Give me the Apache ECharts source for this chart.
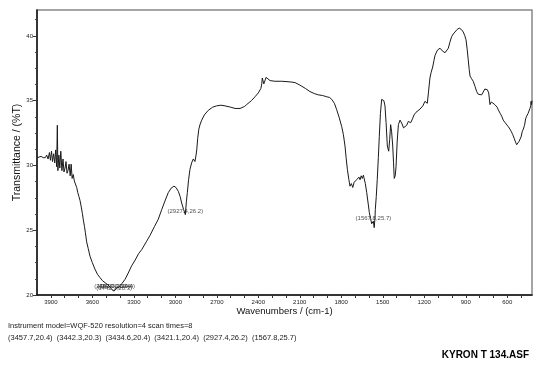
<!DOCTYPE html>
<html>
<head>
<meta charset="utf-8">
<style>
html,body{margin:0;padding:0;background:#fff;}
#chart{width:545px;height:368px;}
</style>
<script src="https://cdn.jsdelivr.net/npm/echarts@6/dist/echarts.min.js"></script>
</head>
<body>
<div id="chart"></div>
<script>
// Wavenumbers (cm-1)
var wavenumbers = [
3998,3985,3970,3955,3940,3930,3920,3910,3903,3895,3888,3880,3872,3865,3858,3853,3849,3842,3835,3828,
3820,3812,3805,3797,3790,3783,3776,3768,3760,3753,3746,3738,3730,3722,3713,3705,3697,3689,3680,3672,
3665,3657,3650,3641,3630,3617,3600,3581,3563,3545,3526,3508,3490,3470,3457.7,3448,3442.3,3434.6,3428,3421.1,
3410,3400,3385,3364,3340,3316,3290,3265,3243,3210,3183,3150,3123,3098,3075,3051,3030,3010,2995,2978,
2965,2954,2940,2927.4,2920,2913,2904,2894,2882,2870,2858,2850,2845,2838,2830,2820,2809,2790,2762,2730,
2701,2670,2641,2600,2568,2532,2500,2484,2450,2424,2400,2381,2375,2371,2365,2360,2356,2350,2344,2335,
2315,2280,2231,2171,2135,2099,2060,2026,1995,1966,1935,1905,1885,1869,1850,1833,1815,1797,1785,1773,
1765,1756,1745,1737,1727,1717,1707,1697,1689,1680,1672,1664,1656,1648,1640,1636,1626,1616,1606,1597,
1588,1580,1575,1567.8,1562,1556,1554,1547,1540,1532,1525,1517,1508,1500,1492,1484,1476,1467,1457,1450,
1443,1436,1428,1422,1417,1410,1404,1396,1387,1375,1360,1350,1339,1327,1315,1298,1285,1274,1260,1250,
1231,1210,1195,1185,1178,1170,1159,1150,1139,1130,1122,1105,1086,1070,1060,1050,1040,1026,1015,1002,
990,978,962,947,932,918,908,898,890,882,875,869,858,846,833,821,810,797,785,773,
762,754,744,734,725,715,701,690,681,673,665,650,640,629,615,604,593,580,570,561,
550,540,532,527,520,515,508,500,492,484,475,467,460,450,443,436,430,428,424,421
];
// Transmittance (%T)
var transmittance = [
30.6,30.5,30.7,30.6,30.6,30.8,30.5,31.0,30.4,31.1,30.3,30.9,30.2,31.2,29.9,33.1,29.6,30.8,29.8,31.1,
29.6,30.5,29.5,29.8,30.3,29.4,29.6,30.1,29.2,30.1,29.0,29.3,28.8,28.7,28.3,27.9,27.6,27.3,26.8,26.3,
25.8,25.3,24.8,24.1,23.6,23.0,22.5,22.0,21.6,21.35,21.1,20.95,20.8,20.6,20.4,20.5,20.3,20.4,20.5,20.4,
20.6,20.7,20.9,21.2,21.7,22.25,22.7,23.2,23.5,24.1,24.6,25.3,25.85,26.6,27.25,27.9,28.25,28.4,28.3,28.0,
27.6,27.1,26.6,26.2,27.2,27.9,28.9,29.7,30.2,30.5,30.3,30.8,31.2,32.1,32.8,33.2,33.5,33.9,34.25,34.5,
34.6,34.65,34.6,34.5,34.4,34.4,34.55,34.7,35.0,35.3,35.6,35.95,36.3,36.75,36.7,36.3,36.15,36.6,36.8,36.7,
36.55,36.5,36.5,36.45,36.4,36.2,35.95,35.7,35.55,35.45,35.4,35.3,35.25,35.1,34.8,34.3,33.7,33.0,32.4,31.5,
30.6,29.7,28.9,28.4,28.6,28.3,28.7,28.6,28.9,28.8,29.1,28.9,29.2,29.0,29.25,29.05,28.6,27.9,27.1,26.35,
25.9,25.5,25.5,25.7,25.2,26.0,26.6,27.6,28.9,30.6,32.25,34.0,35.1,35.2,35.0,34.6,33.3,31.5,31.1,32.0,
33.15,32.6,31.5,30.2,29.0,29.2,29.9,31.8,33.15,33.5,33.2,32.9,32.8,33.1,33.4,33.3,33.6,33.9,34.1,34.1,
34.35,34.6,34.95,34.9,34.8,35.6,36.75,37.2,37.6,38.1,38.5,38.9,39.05,38.85,38.7,38.7,38.85,39.05,39.5,39.95,
40.15,40.3,40.5,40.6,40.5,40.3,40.05,39.7,39.0,38.15,37.4,36.9,36.7,36.5,36.1,35.7,35.5,35.4,35.45,35.6,
35.9,36.0,35.85,35.6,34.7,34.9,34.95,34.7,34.8,34.5,34.3,34.0,33.8,33.5,33.3,33.2,33.0,32.8,32.6,32.4,
32.1,31.8,31.6,31.5,31.7,31.85,32.0,32.2,32.6,32.8,33.1,33.6,33.8,34.0,34.2,34.4,34.6,34.95,34.7,35.0
];
// Peak picks (as listed under the chart)
var peakWavenumbers = [3457.7, 3442.3, 3434.6, 3421.1, 2927.4, 1567.8];
var peakValues = [20.4, 20.3, 20.4, 20.4, 26.2, 25.7];
// Axis tick labels
var xTickLabels = [3900, 3600, 3300, 3000, 2700, 2400, 2100, 1800, 1500, 1200, 900, 600];
var xTickMarks = [3900,3800,3700,3600,3500,3400,3300,3200,3100,3000,2900,2800,2700,2600,2500,2400,2300,2200,2100,2000,1900,1800,1700,1600,1500,1400,1300,1200,1100,1000,900,800,700,600,500];
var yTickLabels = [20, 25, 30, 35, 40];
var yMinorTicks = [21.25,22.5,23.75,26.25,27.5,28.75,31.25,32.5,33.75,36.25,37.5,38.75,41.25];
var xRange = [421, 4000];
var yRange = [20, 42];

var FONT = 'Liberation Sans, Arial, sans-serif';
var spectrum = wavenumbers.map(function (w, i) { return [w, transmittance[i]]; });
var peaks = peakWavenumbers.map(function (w, i) { return [w, peakValues[i]]; });
var peakText = peaks.map(function (p) { return '(' + p[0].toFixed(1) + ',' + p[1].toFixed(1) + ')'; });
var plain = function (v) { return String(v); };

var chart = echarts.init(document.getElementById('chart'), null, {renderer: 'canvas'});
chart.setOption({
  animation: false,
  backgroundColor: '#fff',
  grid: {left: 37, right: 13, top: 10, bottom: 73, show: true, borderColor: '#888', borderWidth: 1.5, backgroundColor: 'transparent'},
  xAxis: {
    type: 'value', inverse: true, min: xRange[0], max: xRange[1],
    name: 'Wavenumbers / (cm-1)', nameLocation: 'middle', nameGap: 11, nameMoveOverlap: false,
    nameTextStyle: {fontFamily: FONT, fontSize: 9.5, color: '#111'},
    axisLine: {show: true, lineStyle: {color: '#111', width: 1.5}},
    axisTick: {show: true, length: 3, lineStyle: {color: '#333', width: 1}, customValues: xTickMarks},
    axisLabel: {fontFamily: FONT, fontSize: 6, color: '#222', margin: 4, customValues: xTickLabels, formatter: plain},
    splitLine: {show: false}
  },
  yAxis: [{
    type: 'value', min: yRange[0], max: yRange[1],
    name: 'Transmittance / (%T)', nameLocation: 'middle', nameGap: 14, nameRotate: 90, nameMoveOverlap: false,
    nameTextStyle: {fontFamily: FONT, fontSize: 10.5, color: '#111'},
    axisLine: {show: true, lineStyle: {color: '#111', width: 1.5}},
    axisTick: {show: true, length: 4, lineStyle: {color: '#333', width: 1}, customValues: yTickLabels},
    axisLabel: {fontFamily: FONT, fontSize: 6, color: '#222', margin: 4, customValues: yTickLabels, formatter: plain},
    splitLine: {show: false}
  }, {
    type: 'value', min: yRange[0], max: yRange[1], position: 'left',
    axisLine: {show: false},
    axisTick: {show: true, length: 2, lineStyle: {color: '#444', width: 1}, customValues: yMinorTicks},
    axisLabel: {show: false},
    splitLine: {show: false}
  }],
  series: [{
    type: 'line', data: spectrum, showSymbol: false, symbol: 'none',
    lineStyle: {color: '#1a1a1a', width: 1}, silent: true
  }, {
    type: 'scatter', data: peaks, symbolSize: 0, silent: true,
    label: {
      show: true, position: 'top', distance: 0,
      fontFamily: FONT, fontSize: 6, color: '#222',
      formatter: function (p) { return peakText[p.dataIndex]; }
    }
  }],
  graphic: [
    {type: 'text', left: 8, top: 322, style: {text: 'Instrument model=WQF-520 resolution=4 scan times=8', font: '7.5px ' + FONT, fill: '#222'}},
    {type: 'text', left: 8, top: 334, style: {text: peakText.join('  '), font: '7.5px ' + FONT, fill: '#222'}},
    {type: 'text', right: 16, top: 350, style: {text: 'KYRON T 134.ASF', font: 'bold 10px ' + FONT, fill: '#000'}}
  ]
});
</script>
</body>
</html>
